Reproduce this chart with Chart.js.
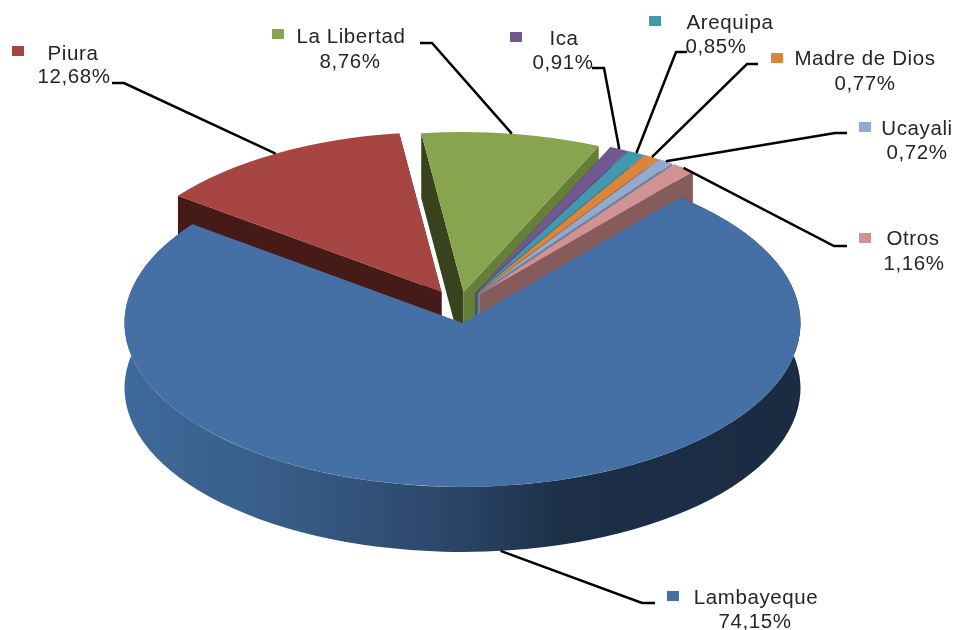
<!DOCTYPE html>
<html>
<head>
<meta charset="utf-8">
<title>Participación por región</title>
<script src="https://cdn.jsdelivr.net/npm/chart.js@4"></script>
<style>
    html, body { margin: 0; padding: 0; background: #fff; }
    canvas { display: block; }
</style>
</head>
<body>
<canvas id="pieChart" width="957" height="630"></canvas>
<script>
// Lambayeque goes last so its top face is painted over the walls of the others
const categories = ['Piura', 'La Libertad', 'Ica', 'Arequipa', 'Madre de Dios', 'Ucayali', 'Otros', 'Lambayeque'];
const shares = [12.68, 8.76, 0.91, 0.85, 0.77, 0.72, 1.16, 74.15];

const topColors = ['#A64542', '#88A44E', '#71588F', '#4198AF', '#DB843D', '#93A9CF', '#D19392', '#4470A5'];
const startWallColors = ['#451A17', '#38421C', '#3A2D4A', '#215060', '#73441F', '#4D586C', '#6D4C4C', '#27405F'];
const endWallColors = ['#451A17', '#667F38', '#574470', '#317587', '#A96630', '#72839F', '#855C5B', '#27405F'];

// Fake 3D settings
const squash = 0.485;
const depth = 65;
const backRadius = 330;
// screen shift of each exploded slice, px
const shifts = [[-21, -31], [1, -31], [13, -30], [14, -30], [15, -30], [16, -30], [18, -29], [0, 0]];

// marker x,y | name x,y | value x,y | leader elbow | leader end
const labelLayout = [
    { mark: [12, 46], name: [73, 60], val: [74, 83], elbow: [124, 83], end: [112, 83] },
    { mark: [272, 29], name: [351, 43], val: [350, 68], elbow: [432, 43], end: [420, 43] },
    { mark: [510, 32], name: [564, 45], val: [563, 69], elbow: [604, 68], end: [592, 68] },
    { mark: [649, 16], name: [730, 29], val: [716, 53], elbow: [676, 52], end: [687, 52] },
    { mark: [771, 53], name: [865, 65], val: [865, 90], elbow: [747, 64], end: [758, 64] },
    { mark: [859, 122], name: [917, 135], val: [917, 159], elbow: [835, 133], end: [847, 133] },
    { mark: [859, 233], name: [913, 245], val: [914, 270], elbow: [834, 246], end: [847, 246] },
    { mark: [667, 591], name: [756, 604], val: [755, 628], elbow: [642, 603], end: [655, 603] }
];

function centerY(chart) {
    return (chart.chartArea.top + chart.chartArea.bottom) / 2;
}

// arc point -> screen point
function screenPoint(chart, arc, angle) {
    const cy = centerY(chart);
    return {
        x: arc.x + Math.cos(angle) * arc.outerRadius,
        y: cy + (arc.y + Math.sin(angle) * arc.outerRadius - cy) * squash
    };
}

function fillWall(ctx, a, b, color) {
    ctx.fillStyle = color;
    ctx.beginPath();
    ctx.moveTo(a.x, a.y);
    ctx.lineTo(b.x, b.y);
    ctx.lineTo(b.x, b.y + depth);
    ctx.lineTo(a.x, a.y + depth);
    ctx.closePath();
    ctx.fill();
}

const pie3d = {
    id: 'pie3d',
    afterDatasetsUpdate(chart) {
        const cy = centerY(chart);
        chart.getDatasetMeta(0).data.forEach((arc, i) => {
            arc.x += shifts[i][0];
            arc.y = cy + shifts[i][1] / squash;
            if (i < categories.length - 1) arc.outerRadius = backRadius;
        });
    },
    beforeDatasetsDraw(chart) {
        const ctx = chart.ctx;
        const arcs = chart.getDatasetMeta(0).data;
        const cy = centerY(chart);

        // radial walls, the top faces cover whatever should not show
        arcs.forEach((arc, i) => {
            if (i === arcs.length - 1) return;
            const tip = { x: arc.x, y: cy + (arc.y - cy) * squash };
            fillWall(ctx, screenPoint(chart, arc, arc.startAngle), tip, startWallColors[i]);
            fillWall(ctx, tip, screenPoint(chart, arc, arc.endAngle), endWallColors[i]);
        });

        // round wall of the big slice
        const big = arcs[arcs.length - 1];
        const r = big.outerRadius;
        const grad = ctx.createLinearGradient(big.x - r, 0, big.x + r, 0);
        grad.addColorStop(0, '#3F6A9B');
        grad.addColorStop(0.25, '#375B85');
        grad.addColorStop(0.5, '#294465');
        grad.addColorStop(0.65, '#1C2F47');
        grad.addColorStop(1, '#1A2C42');
        ctx.fillStyle = grad;
        ctx.beginPath();
        ctx.ellipse(big.x, cy, r, r * squash, 0, big.startAngle, big.endAngle, false);
        ctx.ellipse(big.x, cy + depth, r, r * squash, 0, big.endAngle, big.startAngle, true);
        ctx.closePath();
        ctx.fill();

        // the library draws the top faces through this transform
        ctx.save();
        ctx.translate(0, cy);
        ctx.scale(1, squash);
        ctx.translate(0, -cy);
    },
    afterDatasetsDraw(chart) {
        chart.ctx.restore();
    },
    afterDraw(chart) {
        const ctx = chart.ctx;
        const arcs = chart.getDatasetMeta(0).data;
        ctx.save();
        arcs.forEach((arc, i) => {
            const lay = labelLayout[i];
            const isFront = i === arcs.length - 1;
            const p = screenPoint(chart, arc, (arc.startAngle + arc.endAngle) / 2);

            ctx.strokeStyle = '#000';
            ctx.lineWidth = 2.5;
            ctx.beginPath();
            ctx.moveTo(p.x, p.y + (isFront ? depth : 0));
            ctx.lineTo(lay.elbow[0], lay.elbow[1]);
            ctx.lineTo(lay.end[0], lay.end[1]);
            ctx.stroke();

            ctx.fillStyle = topColors[i];
            ctx.fillRect(lay.mark[0], lay.mark[1], 12, 10);

            ctx.fillStyle = '#262626';
            ctx.font = '20.5px "Liberation Sans", Arial, sans-serif';
            ctx.letterSpacing = '0.6px';
            ctx.textAlign = 'center';
            ctx.textBaseline = 'alphabetic';
            ctx.fillText(categories[i], lay.name[0], lay.name[1]);
            ctx.fillText(shares[i].toFixed(2).replace('.', ',') + '%', lay.val[0], lay.val[1]);
        });
        ctx.restore();
    }
};

new Chart(document.getElementById('pieChart'), {
    type: 'pie',
    data: {
        labels: categories,
        datasets: [{
            data: shares,
            backgroundColor: topColors,
            borderWidth: 0,
            radius: 338,
            clip: false
        }]
    },
    options: {
        responsive: false,
        animation: false,
        events: [],
        rotation: 307,
        layout: { padding: { top: 16, right: 32 } },
        plugins: { legend: { display: false }, tooltip: { enabled: false } }
    },
    plugins: [pie3d]
});
</script>
</body>
</html>
